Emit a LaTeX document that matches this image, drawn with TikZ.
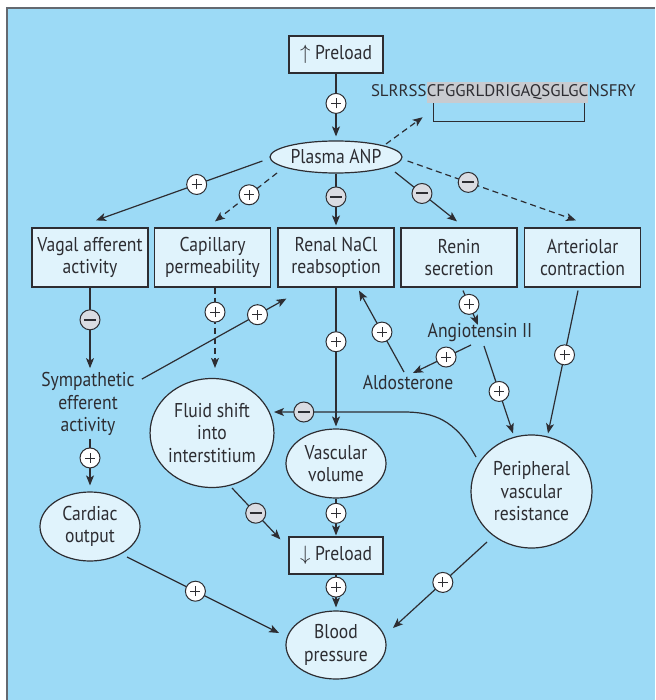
\documentclass[tikz,border=0pt]{standalone}
\usepackage{fontspec}
\setmainfont{PT Sans}[FakeStretch=0.88]
\newfontfamily\seqfont{PT Sans}
\usetikzlibrary{arrows.meta,shapes.geometric,calc}
\definecolor{bg}{RGB}{156,218,246}
\definecolor{nodefill}{RGB}{224,243,252}
\definecolor{ink}{RGB}{45,45,50}
\definecolor{minusfill}{RGB}{218,220,226}
\definecolor{hl}{RGB}{200,203,208}
\definecolor{frame}{RGB}{100,105,112}
\newcommand\mainsz{\fontsize{20}{22.5}\selectfont}
\newcommand\seqsz{\seqfont\fontsize{16.8}{20}\selectfont}
\tikzset{
  box/.style={draw=ink, line width=1.2pt, fill=nodefill, minimum width=116pt, minimum height=59pt, inner sep=0pt, align=center, font=\mainsz, text=ink},
  smallbox/.style={box, minimum width=94pt, minimum height=37pt},
  oval/.style={ellipse, draw=ink, line width=1.2pt, fill=nodefill, inner sep=0pt, align=center, font=\mainsz, text=ink},
  lbl/.style={inner sep=0pt, align=center, font=\mainsz, text=ink},
  arr/.style={draw=ink, line width=1.2pt, -{Stealth[length=10pt,width=8pt,inset=2.5pt]}},
  dsh/.style={arr, dash pattern=on 6pt off 4pt},
  signbase/.style={circle, draw=ink, solid, line width=1pt, minimum size=20pt, inner sep=0pt},
  pl/.style={signbase, fill=white, path picture={
      \draw[arrows=-, ink, solid, line width=0.9pt]
        ([xshift=-5pt]path picture bounding box.center) -- ([xshift=5pt]path picture bounding box.center)
        ([yshift=-5pt]path picture bounding box.center) -- ([yshift=5pt]path picture bounding box.center);}},
  mi/.style={signbase, fill=minusfill, path picture={
      \draw[arrows=-, ink, solid, line width=2pt]
        ([xshift=-6pt]path picture bounding box.center) -- ([xshift=6pt]path picture bounding box.center);}},
}
\begin{document}
\begin{tikzpicture}[x=1pt, y=-1pt]
\useasboundingbox (0,0) rectangle (655,700);
\fill[bg] (6,7) rectangle (655,700);
\draw[frame, line width=1.7pt] (6.8,700) -- (6.8,7.8) -- (655,7.8);

% nodes
\node[smallbox] (up) at (336,54.5) {$\uparrow$ Preload};
\node[oval, minimum width=132pt, minimum height=32pt] (anp) at (336,157) {Plasma ANP};
\node[inner xsep=0pt, inner ysep=0pt, minimum height=21pt, fill=hl, font=\seqsz, text=ink] (seq2) at (507.5,92.5) {CFGGRLDRIGAQSGLGC};
\node[inner sep=0pt, font=\seqsz, text=ink, anchor=base east] (seq1) at (seq2.base west) {SLRRSS};
\node[inner sep=0pt, font=\seqsz, text=ink, anchor=base west] (seq3) at (seq2.base east) {NSFRY};

\node[box] (vagal) at (90,257.5) {Vagal afferent\\activity};
\node[box] (cap) at (212.5,257.5) {Capillary\\permeability};
\node[box] (renal) at (336,257.5) {Renal NaCl\\reabsoption};
\node[box] (renin) at (459,257.5) {Renin\\secretion};
\node[box] (art) at (582.5,257.5) {Arteriolar\\contraction};

\node[lbl] (symp) at (88,404) {Sympathetic\\efferent\\activity};
\node[lbl] (angio) at (480,333) {Angiotensin II};
\node[lbl] (aldo) at (408,383) {Aldosterone};

\node[oval, minimum width=120pt, minimum height=109pt] (fluid) at (212,433) {Fluid shift\\into\\interstitium};
\node[oval, minimum width=100pt, minimum height=69pt] (vasc) at (336,463.5) {Vascular\\volume};
\node[oval, minimum width=100pt, minimum height=69pt] (cardiac) at (90,526.5) {Cardiac\\output};
\node[oval, minimum width=121pt, minimum height=113pt] (pvr) at (531.5,491.5) {Peripheral\\vascular\\resistance};
\node[smallbox] (down) at (336,555.5) {$\downarrow$ Preload};
\node[oval, minimum width=100pt, minimum height=68pt] (bp) at (336,645) {Blood\\pressure};

% bracket under sequence
\draw[ink, line width=1.2pt] ($(seq2.south west)+(7,0)$) -- ++(0,18) -- ($(seq2.south east)+(-4,18)$) -- ($(seq2.south east)+(-4,0)$);

% connectors
\draw[arr] (up.south) -- node[pl,pos=.475]{} ($(anp.north)+(0,-4)$);
\draw[dsh] ($(anp)+(50,-13)$) -- ($(seq2.south west)+(-4,14)$);
\draw[arr] ($(anp.west)+(-7,4)$) -- node[pl,pos=.395]{} ($(vagal.north)+(6,-7)$);
\draw[dsh] ($(anp)+(-59,16)$) -- node[pl,pos=.45]{} ($(cap.north)+(2.5,-6)$);
\draw[arr] (anp.south) -- node[mi,pos=.45]{} ($(renal.north)+(0,-2)$);
\draw[arr] ($(anp)+(59,15)$) -- node[mi,pos=.435]{} ($(renin.north)+(-2,-6)$);
\draw[dsh] ($(anp.east)+(5,4)$) -- node[mi,pos=.36]{} ($(art.north)+(-6.5,-7)$);

\draw[arr] (vagal.south) -- node[mi,pos=.4]{} ($(symp.north)+(2,-4)$);
\draw[arr] ($(symp.north east)+(7,7)$) -- node[pl,pos=.8]{} ($(renal.south west)+(9,11)$);
\draw[arr] ($(symp.south)+(2,3)$) -- node[pl,pos=.41]{} ($(cardiac.north)+(0,-6)$);
\draw[dsh] ($(cap.south)+(2.5,0)$) -- node[pl,pos=.305]{} ($(fluid.north)+(3,-10)$);
\draw[arr] (renal.south) -- node[pl,pos=.39]{} ($(vasc.north)+(0,-2)$);

\draw[arr] ($(renin.south)+(4,3)$) -- node[pl,pos=.4]{} ($(angio)+(-2,-8)$);
\draw[arr] ($(angio)+(-9,12)$) -- node[pl,pos=.43]{} ($(aldo)+(5,-10)$);
\draw[arr] ($(aldo)+(-4,-11)$) -- node[pl,pos=.49]{} ($(renal.south)+(23,3)$);
\draw[arr] ($(angio)+(4,13)$) -- node[pl,pos=.52]{} ($(pvr.north)+(-18.5,-1)$);
\draw[arr] ($(art.south)+(-4.5,3)$) -- node[pl,pos=.45]{} ($(pvr.north)+(16.5,-1)$);

\draw[arr] ($(pvr)+(-55.5,-34.5)$) .. controls ($(pvr)+(-76,-72)$) and ($(pvr)+(-98,-79.5)$) .. ($(pvr)+(-128,-79.5)$)
  -- node[mi,pos=.77]{} ($(fluid)+(62,-21)$);

\draw[arr] ($(fluid)+(20,55)$) -- node[mi,pos=.49]{} ($(down.north west)+(-8,3)$);
\draw[arr] (vasc.south) -- node[pl,pos=.4]{} ($(down.north)+(0,-1)$);
\draw[arr] (down.south) -- node[pl,pos=.38]{} ($(bp.north)+(0,-3)$);
\draw[arr] ($(cardiac)+(37,30.5)$) -- node[pl,pos=.45]{} ($(bp)+(-57,-12)$);
\draw[arr] ($(pvr)+(-44.5,50.5)$) -- node[pl,pos=.47]{} ($(bp)+(57,-17)$);
\end{tikzpicture}
\end{document}
